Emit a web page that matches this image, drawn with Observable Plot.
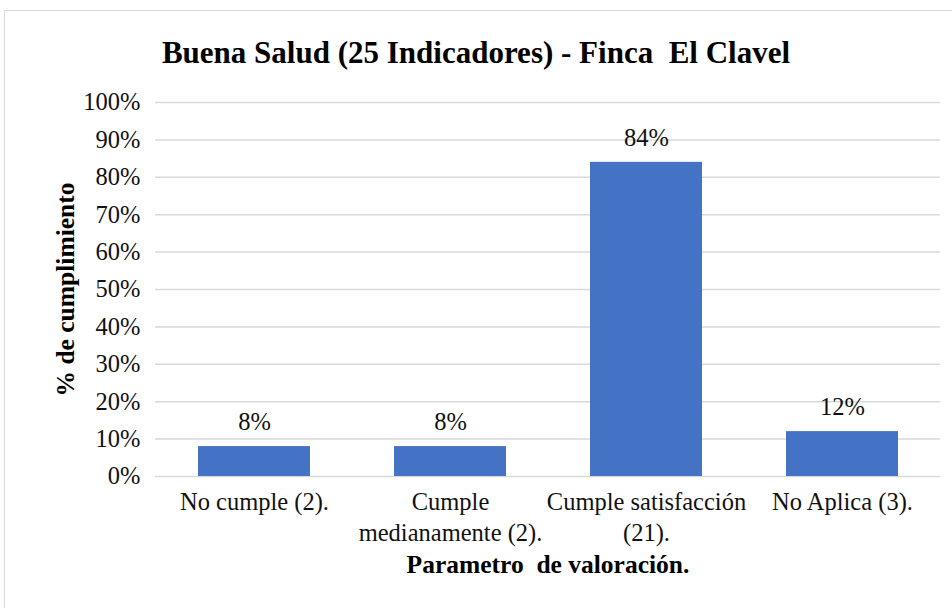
<!DOCTYPE html>
<html>
<head>
<meta charset="utf-8">
<script src="https://cdn.jsdelivr.net/npm/d3@7"></script>
<script src="https://cdn.jsdelivr.net/npm/@observablehq/plot@0.6"></script>
<style>
  html, body { margin: 0; padding: 0; background: #fff; overflow: hidden; }
  #wrap { position: relative; width: 952px; height: 608px; overflow: hidden; font-family: "Liberation Serif", Tinos, "Times New Roman", Times, serif; }
  #frame { position: absolute; left: 4px; top: 10px; width: 980px; height: 640px; border: 1.5px solid #d9d9d9; box-sizing: border-box; }
  #title { position: relative; box-sizing: border-box; height: 90px; padding-top: 37px; line-height: 1; font-size: 31px; font-weight: bold; text-align: center; color: #000; white-space: pre; }
  #chart { position: relative; }
</style>
</head>
<body>
<div id="wrap">
  <div id="frame"></div>
  <div id="title">Buena Salud (25 Indicadores) - Finca  El Clavel</div>
  <div id="chart"></div>
</div>
<script>
const categories = ["No cumple (2).", "Cumple medianamente (2).", "Cumple satisfacción (21).", "No Aplica (3)."];
const tickLabels = ["No cumple (2).", "Cumple\nmedianamente (2).", "Cumple satisfacción\n(21).", "No Aplica (3)."];
const values = [0.08, 0.08, 0.84, 0.12];
const valueLabels = ["8%", "8%", "84%", "12%"];
const yTicks = [0, 0.1, 0.2, 0.3, 0.4, 0.5, 0.6, 0.7, 0.8, 0.9, 1.0];
const xTitle = "Parametro  de valoración.";
const yTitle = "% de cumplimiento";

const data = categories.map((c, i) => ({cat: c, value: values[i], label: valueLabels[i]}));
const tickMap = new Map(categories.map((c, i) => [c, tickLabels[i]]));

const chart = Plot.plot({
  width: 952,
  height: 518,
  marginTop: 12,
  marginBottom: 132,
  marginLeft: 155,
  marginRight: 12,
  style: {fontFamily: "'Liberation Serif', Tinos, 'Times New Roman', Times, serif", fontSize: "24px", color: "#111", background: "transparent", overflow: "visible"},
  x: {domain: categories, paddingInner: 0.43, paddingOuter: 0.215, label: null},
  y: {domain: [0, 1], label: null},
  marks: [
    Plot.ruleY(yTicks, {stroke: "#d9d9d9", strokeWidth: 1.5}),
    Plot.barY(data, {x: "cat", y: "value", fill: "#4472C4"}),
    Plot.text(data, {x: "cat", y: "value", text: "label", dy: -24, fontSize: 24.5, fill: "#111"}),
    Plot.axisY({ticks: yTicks, tickFormat: d => Math.round(d * 100) + "%", tickSize: 0, tickPadding: 15, fontSize: 24.5, label: null}),
    Plot.axisX({tickFormat: d => tickMap.get(d), tickSize: 0, tickPadding: 11, fontSize: 24.5, lineHeight: 1.27, label: null}),
    Plot.text([xTitle], {frameAnchor: "bottom", dy: 96, fontSize: 25.5, fontWeight: "bold", fill: "#000"}),
    Plot.text([yTitle], {frameAnchor: "left", textAnchor: "middle", dx: -90, rotate: -90, fontSize: 25.5, fontWeight: "bold", fill: "#000"})
  ]
});
document.getElementById("chart").appendChild(chart);
</script>
</body>
</html>
